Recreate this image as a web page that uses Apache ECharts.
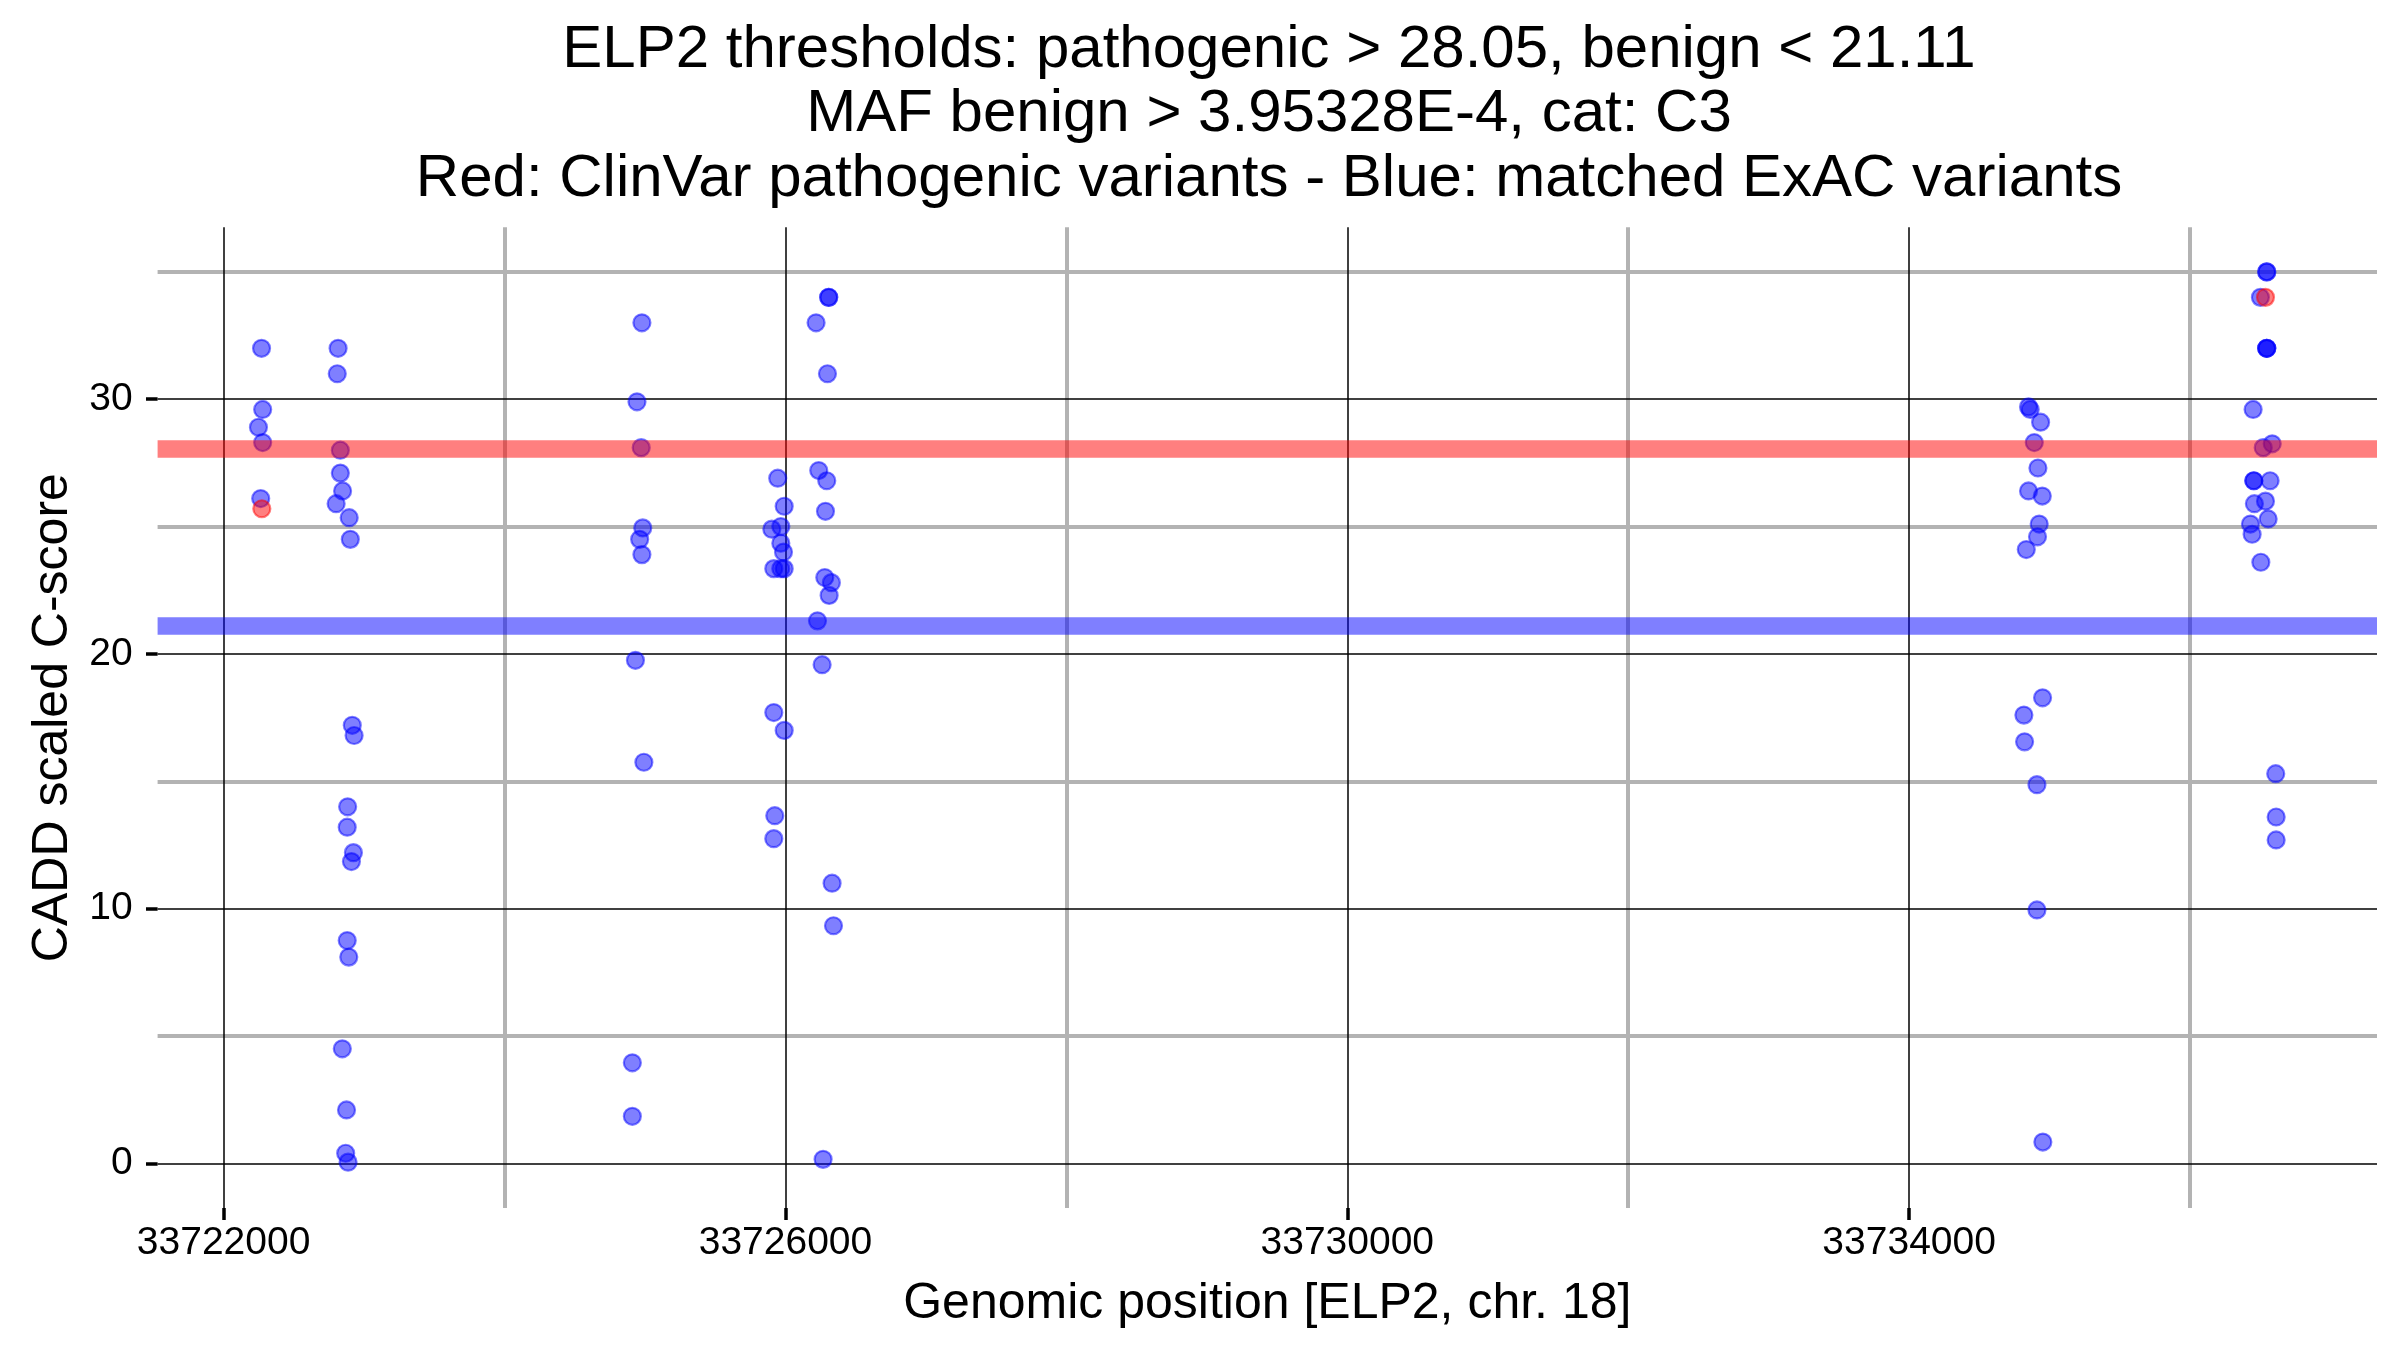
<!DOCTYPE html>
<html>
<head>
<meta charset="utf-8">
<script src="https://cdn.jsdelivr.net/npm/echarts@6/dist/echarts.min.js"></script>
<style>
  html, body { margin: 0; padding: 0; background: #ffffff; }
  #chart { width: 2400px; height: 1350px; }
</style>
</head>
<body>
<div id="chart"></div>
<script>
// ---- Data ----
const blueX = [
  33722270, 33722278, 33722248, 33722278, 33722264,
  33722815, 33722809, 33722831, 33722831, 33722847, 33722801, 33722894, 33722902,
  33722916, 33722929, 33722883, 33722880, 33722924, 33722910, 33722880, 33722891,
  33722845, 33722875, 33722869, 33722886,
  33724978, 33724943, 33724973, 33724984, 33724962, 33724978, 33724932, 33724992,
  33724910, 33724910,
  33725945, 33725991, 33725903, 33725967, 33725967, 33725986, 33725917, 33725967,
  33725991, 33725917, 33725991, 33725924, 33725917,
  33726308, 33726308, 33726218, 33726299, 33726237, 33726294, 33726285, 33726280,
  33726327, 33726311, 33726228, 33726261, 33726332, 33726342, 33726268,
  33734850, 33734862, 33734936, 33734891, 33734917, 33734850, 33734948, 33734926,
  33734914, 33734834, 33734950, 33734817, 33734822, 33734910, 33734910, 33734952,
  33736546, 33736546, 33736501, 33736546, 33736546, 33736546, 33736449, 33736585,
  33736521, 33736454, 33736454, 33736570, 33736458, 33736537, 33736556, 33736430,
  33736442, 33736504, 33736610, 33736613, 33736613
];
const blueY = [
  32.0, 29.6, 28.9, 28.3, 26.1,
  32.0, 31.0, 28.0, 27.1, 26.4, 25.9, 25.35, 24.5,
  17.2, 16.8, 14.0, 13.2, 12.2, 11.85, 8.75, 8.1,
  4.5, 2.1, 0.4, 0.05,
  33.0, 29.9, 28.1, 24.95, 24.5, 23.9, 19.75, 15.75,
  3.95, 1.85,
  26.9, 25.8, 24.9, 25.0, 24.35, 24.0, 23.35, 23.35,
  23.35, 17.7, 17.0, 13.65, 12.75,
  34.0, 34.0, 33.0, 31.0, 27.2, 26.8, 25.6, 23.0,
  22.8, 22.3, 21.3, 19.58, 11.0, 9.33, 0.16,
  29.7, 29.6, 29.1, 28.3, 27.3, 26.4, 26.2, 25.1,
  24.6, 24.1, 18.28, 17.6, 16.55, 14.87, 9.95, 0.84,
  35.0, 35.0, 34.0, 32.0, 32.0, 32.0, 29.6, 28.25,
  28.1, 26.8, 26.8, 26.8, 25.9, 26.0, 25.3, 25.1,
  24.7, 23.6, 15.3, 13.6, 12.7
];
const redX = [33722272, 33736537];
const redY = [25.7, 34.0];

const pathogenicThreshold = 28.05;
const benignThreshold = 21.11;

const xMajorTicks = [33722000, 33726000, 33730000, 33734000];
const xMinorTicks = [33724000, 33728000, 33732000, 33736000];
const yMajorTicks = [0, 10, 20, 30];
const yMinorTicks = [5, 15, 25, 35];

const xRange = [33721530, 33737331];
const yRange = [-1.75, 36.75];

const titleLines = [
  'ELP2 thresholds: pathogenic > 28.05, benign < 21.11',
  'MAF benign > 3.95328E-4, cat: C3',
  'Red: ClinVar pathogenic variants - Blue: matched ExAC variants'
];
const xTitle = 'Genomic position [ELP2, chr. 18]';
const yTitle = 'CADD scaled C-score';

// ---- Build chart ----
const FONT = '"Liberation Sans", Arial, Helvetica, sans-serif';
const blueData = blueX.map((x, i) => [x, blueY[i]]);
const redData = redX.map((x, i) => [x, redY[i]]);

const chart = echarts.init(document.getElementById('chart'), null, { renderer: 'canvas' });

const pointStyle = (c) => ({ color: c, borderColor: c, borderWidth: 2.2, opacity: 1 });

chart.setOption({
  animation: false,
  backgroundColor: '#ffffff',
  title: {
    text: titleLines.join('\n'),
    left: 1269,
    top: 18,
    padding: 0,
    textAlign: 'center',
    textStyle: {
      fontFamily: FONT, fontSize: 60, fontWeight: 'normal',
      color: '#000000', lineHeight: 64.6
    }
  },
  grid: { left: 157.6, right: 23, top: 227.3, bottom: 142, containLabel: false },
  xAxis: [
    {
      type: 'value', min: xRange[0], max: xRange[1], z: 2, position: 'bottom',
      axisLine: { show: false, onZero: false },
      axisTick: { show: true, length: 12, customValues: xMajorTicks,
                  lineStyle: { color: '#000000', width: 3.5 } },
      axisLabel: { show: true, customValues: xMajorTicks, margin: 16,
                   fontFamily: FONT, fontSize: 39, color: '#000000',
                   formatter: (v) => String(v) },
      splitLine: { show: true, lineStyle: { color: '#000000', width: 1.5 } },
      name: xTitle, nameLocation: 'middle', nameGap: 96,
      nameTextStyle: { fontFamily: FONT, fontSize: 50, color: '#000000', verticalAlign: 'middle' }
    },
    {
      type: 'value', min: xRange[0], max: xRange[1], z: 1, position: 'bottom',
      axisLine: { show: false, onZero: false },
      axisTick: { show: false, customValues: xMinorTicks },
      axisLabel: { show: false, customValues: xMinorTicks },
      splitLine: { show: true, lineStyle: { color: '#b3b3b3', width: 4 } }
    }
  ],
  yAxis: [
    {
      type: 'value', min: yRange[0], max: yRange[1], z: 2, position: 'left',
      axisLine: { show: false, onZero: false },
      axisTick: { show: true, length: 11.6, customValues: yMajorTicks,
                  lineStyle: { color: '#000000', width: 3.5 } },
      axisLabel: { show: true, customValues: yMajorTicks, margin: 25,
                   fontFamily: FONT, fontSize: 39, color: '#000000' },
      splitLine: { show: true, lineStyle: { color: '#000000', width: 1.5 } },
      name: yTitle, nameLocation: 'middle', nameGap: 103,
      nameTextStyle: { fontFamily: FONT, fontSize: 50, color: '#000000', verticalAlign: 'middle' }
    },
    {
      type: 'value', min: yRange[0], max: yRange[1], z: 1, position: 'left',
      axisLine: { show: false, onZero: false },
      axisTick: { show: false, customValues: yMinorTicks },
      axisLabel: { show: false, customValues: yMinorTicks },
      splitLine: { show: true, lineStyle: { color: '#b3b3b3', width: 4 } }
    }
  ],
  series: [
    {
      name: 'ExAC', type: 'scatter', xAxisIndex: 0, yAxisIndex: 0,
      data: blueData, symbol: 'circle', symbolSize: 17, z: 3,
      itemStyle: pointStyle('rgba(0,0,255,0.5)'),
      emphasis: { disabled: true },
      markLine: {
        silent: true, symbol: ['none', 'none'], z: 6,
        label: { show: false },
        emphasis: { disabled: true },
        data: [
          { yAxis: pathogenicThreshold, lineStyle: { color: 'rgba(255,0,0,0.5)', width: 17.5, type: 'solid' } },
          { yAxis: benignThreshold, lineStyle: { color: 'rgba(0,0,255,0.5)', width: 17.5, type: 'solid' } }
        ]
      }
    },
    {
      name: 'ClinVar', type: 'scatter', xAxisIndex: 0, yAxisIndex: 0,
      data: redData, symbol: 'circle', symbolSize: 17, z: 4,
      itemStyle: pointStyle('rgba(255,0,0,0.5)'),
      emphasis: { disabled: true }
    }
  ]
});
</script>
</body>
</html>
